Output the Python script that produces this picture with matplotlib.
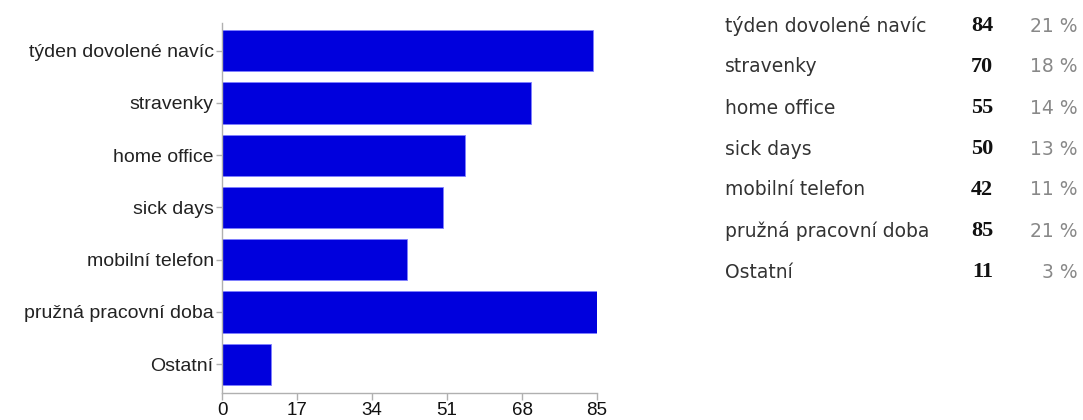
import matplotlib.pyplot as plt

# --- Data ---
categories = ["týden dovolené navíc", "stravenky", "home office", "sick days",
              "mobilní telefon", "pružná pracovní doba", "Ostatní"]
counts = [84, 70, 55, 50, 42, 85, 11]
percents = ["21 %", "18 %", "14 %", "13 %", "11 %", "21 %", "3 %"]
x_ticks = [0, 17, 34, 51, 68, 85]

W, H = 1083, 420
fig = plt.figure(figsize=(W / 100, H / 100), dpi=100)

# --- Bar chart (left) ---
ax = fig.add_axes([222 / W, 1 - 393 / H, (597 - 222) / W, (393 - 23) / H])
pos = list(range(len(categories)))
ax.barh(pos, counts, height=0.79, color="#0000dd", edgecolor="#8080ff", linewidth=0.6)
ax.set_xlim(0, 85)
ax.set_ylim(6.55, -0.53)
ax.set_yticks(pos)
ax.set_yticklabels(categories, fontfamily="Liberation Sans", fontsize=14, color="#222222")
ax.set_xticks(x_ticks)
ax.set_xticklabels([str(t) for t in x_ticks], fontfamily="Liberation Sans", fontsize=13.5,
                   color="#111111")
for s in ["top", "right"]:
    ax.spines[s].set_visible(False)
for s in ["left", "bottom"]:
    ax.spines[s].set_color("#b0b0b0")
    ax.spines[s].set_linewidth(1.0)
ax.tick_params(axis="x", color="#b0b0b0", length=5, width=1, pad=1.5)
ax.tick_params(axis="y", color="#b0b0b0", length=4, width=1, pad=2)

# --- Table (right) ---
for i, (name, n, p) in enumerate(zip(categories, counts, percents)):
    y = 1 - (26 + i * 41) / H
    fig.text(725 / W, y, name, fontfamily="DejaVu Sans", fontsize=13.5,
             color="#333333", va="center", ha="left")
    fig.text(993 / W, y, str(n), fontfamily="Liberation Serif", fontweight="bold",
             fontsize=16, color="#111111", va="center", ha="right")
    fig.text(1078 / W, y, p, fontfamily="DejaVu Sans", fontsize=13.5,
             color="#888888", va="center", ha="right")

fig.savefig("out.png", dpi=100)
